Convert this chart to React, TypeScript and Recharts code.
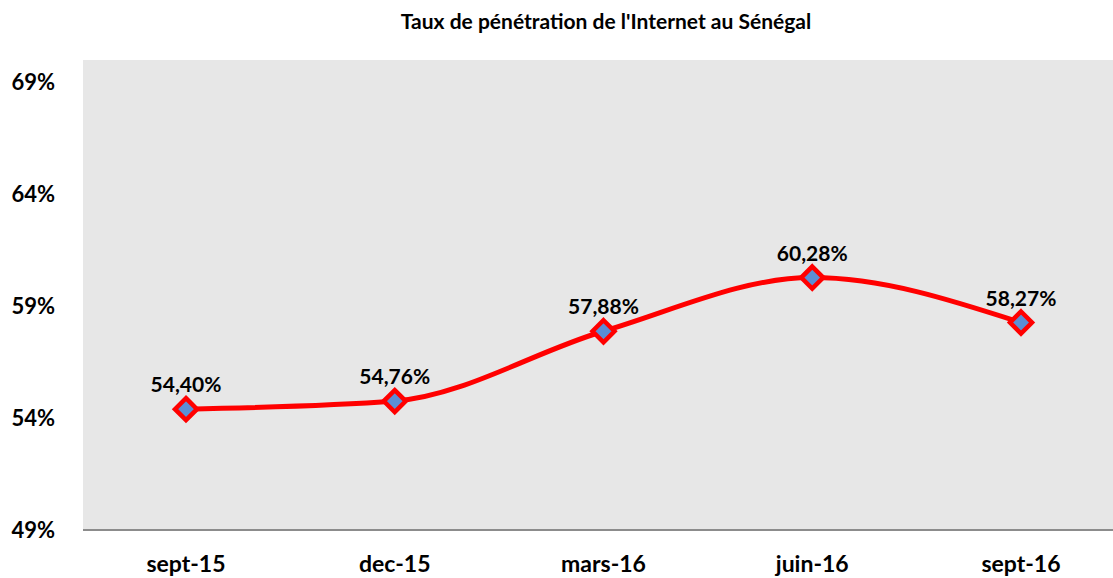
import { LineChart, Line, XAxis, YAxis, CartesianGrid, LabelList } from "recharts";

const periods = ["sept-15", "dec-15", "mars-16", "juin-16", "sept-16"];
const penetration = [0.544, 0.5476, 0.5788, 0.6028, 0.5827];
const yTicks = [0.49, 0.54, 0.59, 0.64, 0.69];

const data = periods.map((period, i) => ({ period, value: penetration[i] }));

const FONT = "Lato, 'Open Sans', sans-serif";

const fmtPct = (v: number) => `${(v * 100).toFixed(2).replace(".", ",")}%`;

const Diamond = (props: any) => {
  const { cx, cy } = props;
  if (cx == null || cy == null) return null;
  const r = 11;
  return (
    <path
      d={`M${cx},${cy - r} L${cx + r},${cy} L${cx},${cy + r} L${cx - r},${cy} Z`}
      fill="#5B8ED6"
      stroke="#FF0000"
      strokeWidth={4.5}
      strokeLinejoin="miter"
    />
  );
};

export default function App() {
  return (
    <div style={{ position: "absolute", left: 0, top: 0, width: 1113, height: 578, background: "#fff", fontFamily: FONT }}>
      <div
        style={{
          position: "absolute",
          top: 8,
          left: 91,
          width: 1030,
          textAlign: "center",
          fontSize: 21,
          fontWeight: 700,
          color: "#000",
        }}
      >
        Taux de pénétration de l'Internet au Sénégal
      </div>
      <LineChart width={1113} height={578} data={data} margin={{ top: 60, right: 0, bottom: 0, left: 0 }}>
        <CartesianGrid horizontal={false} vertical={false} fill="#E7E7E7" stroke="none" />
        <XAxis
          dataKey="period"
          padding={{ left: 103, right: 92 }}
          height={48}
          tickLine={false}
          tickSize={0}
          tickMargin={26}
          axisLine={{ stroke: "#8C8C8C", strokeWidth: 2 }}
          tick={{ fontSize: 23, fontWeight: 700, fill: "#000", fontFamily: FONT }}
        />
        <YAxis
          width={83}
          domain={[0.49, 0.7]}
          ticks={yTicks}
          tickFormatter={(v: number) => `${Math.round(v * 100)}%`}
          axisLine={false}
          tickLine={false}
          tickSize={0}
          tickMargin={28}
          tick={{ fontSize: 22, fontWeight: 700, fill: "#000", fontFamily: FONT }}
        />
        <Line
          type="monotone"
          dataKey="value"
          stroke="#FF0000"
          strokeWidth={5}
          dot={<Diamond />}
          activeDot={false}
          isAnimationActive={false}
        >
          <LabelList
            dataKey="value"
            position="top"
            offset={17}
            formatter={(v: any) => fmtPct(Number(v))}
            style={{ fontSize: 21, fontWeight: 700, fill: "#000", fontFamily: FONT }}
          />
        </Line>
      </LineChart>
    </div>
  );
}
